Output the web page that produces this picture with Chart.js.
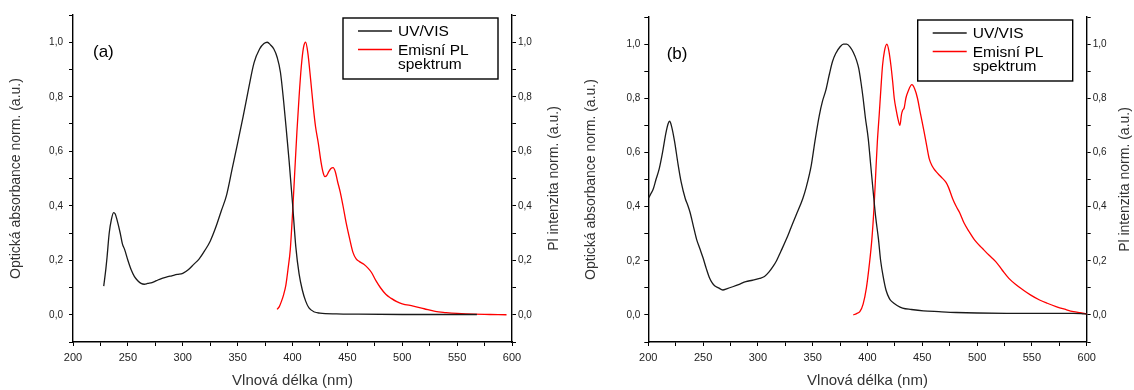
<!DOCTYPE html>
<html>
<head>
<meta charset="utf-8">
<script src="https://cdn.jsdelivr.net/npm/chart.js@4.4.1/dist/chart.umd.min.js"></script>
<style>
    body { margin: 0; background: #fff; }
    .row { display: flex; width: 1134px; height: 390px; }
    canvas { display: block; }
</style>
</head>
<body>
<div class="row">
    <canvas id="chartA" width="567" height="390"></canvas>
    <canvas id="chartB" width="567" height="390"></canvas>
</div>
<script>
// (a) UV/VIS absorbance
const uvA_nm  = [228, 230, 231, 233, 235, 237, 238.5, 240, 243, 245, 247, 250, 253, 256, 259, 262, 265, 268, 272, 276, 280, 285, 290, 295, 300, 305, 310, 315, 320, 325, 330, 335, 340, 345, 350, 355, 360, 365, 370, 374, 377, 380, 383, 386, 389, 392, 395, 397, 400, 403, 406, 409, 412, 415, 420, 425, 440, 460, 500, 540, 568];
const uvA_val = [0.105, 0.17, 0.21, 0.30, 0.35, 0.375, 0.37, 0.35, 0.30, 0.26, 0.24, 0.20, 0.165, 0.14, 0.125, 0.115, 0.112, 0.115, 0.118, 0.125, 0.132, 0.138, 0.143, 0.148, 0.152, 0.165, 0.185, 0.205, 0.235, 0.27, 0.32, 0.38, 0.44, 0.535, 0.63, 0.727, 0.83, 0.925, 0.975, 0.995, 1.0, 0.99, 0.975, 0.945, 0.89, 0.78, 0.65, 0.56, 0.41, 0.25, 0.15, 0.09, 0.05, 0.025, 0.01, 0.006, 0.003, 0.002, 0.001, 0.001, 0.001];
// (a) PL emission
const plA_nm  = [386, 388, 390, 392, 394, 396, 398, 400, 402, 404, 406, 408, 410, 412, 414, 416.6, 419, 421, 423.5, 426, 428, 429.5, 431, 433, 435, 437, 439, 441, 443.5, 446, 449, 452, 455, 458, 461, 465, 469, 472, 476, 480, 485, 490, 495, 500, 510, 520, 530, 540, 550, 565, 580, 595];
const plA_val = [0.02, 0.03, 0.05, 0.075, 0.11, 0.17, 0.24, 0.37, 0.52, 0.67, 0.80, 0.91, 0.98, 1.0, 0.96, 0.86, 0.76, 0.69, 0.63, 0.56, 0.52, 0.507, 0.51, 0.525, 0.537, 0.54, 0.525, 0.49, 0.45, 0.40, 0.335, 0.28, 0.23, 0.205, 0.195, 0.185, 0.17, 0.155, 0.125, 0.10, 0.075, 0.06, 0.048, 0.04, 0.032, 0.022, 0.012, 0.008, 0.005, 0.002, 0.001, 0];

// (b) UV/VIS absorbance
const uvB_nm  = [200, 202, 204.6, 207, 210, 213, 216, 218, 219.5, 221, 224, 227, 230, 233.7, 236, 238, 241, 244, 247, 250, 253, 256, 258, 260.5, 264, 268, 272, 277, 283, 289, 295, 301.6, 306, 310, 314, 317, 321, 326, 330, 335, 341, 344, 348.6, 352, 356, 359, 362, 365, 368, 371, 375, 378, 381, 384, 387, 390, 392, 394, 396, 398, 400.7, 403, 405.3, 407.5, 410, 412, 414.6, 417, 420, 422, 427, 432, 440, 451, 465, 481, 500, 527, 560, 588, 595, 600];
const uvB_val = [0.43, 0.445, 0.466, 0.50, 0.54, 0.60, 0.67, 0.705, 0.715, 0.70, 0.64, 0.56, 0.49, 0.43, 0.405, 0.38, 0.33, 0.28, 0.245, 0.21, 0.17, 0.135, 0.12, 0.108, 0.10, 0.092, 0.097, 0.104, 0.113, 0.123, 0.128, 0.135, 0.142, 0.158, 0.18, 0.20, 0.235, 0.28, 0.32, 0.37, 0.43, 0.47, 0.55, 0.64, 0.736, 0.79, 0.83, 0.885, 0.935, 0.965, 0.99, 1.0, 1.0, 0.99, 0.97, 0.94, 0.91, 0.86, 0.80, 0.73, 0.65, 0.55, 0.45, 0.36, 0.28, 0.20, 0.135, 0.09, 0.06, 0.05, 0.035, 0.025, 0.02, 0.015, 0.012, 0.009, 0.007, 0.006, 0.006, 0.006, 0.005, 0.003];
// (b) PL emission
const plB_nm  = [387, 390, 393, 396, 399, 401.5, 404, 406, 407.6, 409, 410.7, 412.3, 413.7, 415.5, 417.7, 419.5, 421.4, 423, 424.4, 426.5, 428, 429.6, 431, 432, 433.5, 435, 437, 440.5, 443, 445.6, 448, 451.7, 454, 456.3, 459, 462.4, 467, 471.5, 474, 477.6, 481, 484, 488, 492.8, 498, 505, 511, 517, 523, 529, 535, 542, 549, 557, 564, 572, 580, 588, 594, 600];
const plB_val = [0.0, 0.005, 0.012, 0.04, 0.10, 0.18, 0.28, 0.40, 0.53, 0.64, 0.74, 0.84, 0.92, 0.975, 1.0, 0.975, 0.92, 0.86, 0.80, 0.75, 0.72, 0.70, 0.74, 0.755, 0.765, 0.80, 0.825, 0.85, 0.835, 0.80, 0.75, 0.675, 0.625, 0.577, 0.55, 0.53, 0.51, 0.49, 0.47, 0.43, 0.40, 0.378, 0.34, 0.307, 0.275, 0.245, 0.22, 0.197, 0.165, 0.135, 0.113, 0.092, 0.073, 0.055, 0.043, 0.031, 0.021, 0.012, 0.008, 0.004];

const xTitle = 'Vlnová délka (nm)';
const yLeftTitle = 'Optická absorbance norm. (a.u.)';
const yRightTitle = 'Pl intenzita norm. (a.u.)';
const seriesLabels = ['UV/VIS', 'Emisní PL spektrum'];
const legendLines = [['UV/VIS'], ['Emisní PL', 'spektrum']];

const FONT = '"Liberation Sans", Arial, sans-serif';

function toPoints(xs, ys) {
    return xs.map((x, i) => ({ x: x, y: ys[i] }));
}

function yLabel(v) {
    const k = Math.round(v * 10);
    if (k < 0 || k > 10 || k % 2 !== 0) return '';
    return (k / 10).toFixed(1).replace('.', ',');
}

// legend box, panel letter and right axis title (reads bottom to top)
const annotate = {
    id: 'annotate',
    afterDraw(chart, args, opts) {
        const { ctx, chartArea } = chart;
        ctx.save();
        ctx.fillStyle = '#000';
        ctx.textBaseline = 'middle';
        ctx.font = '17px ' + FONT;
        ctx.fillText(opts.panel, chartArea.left + opts.panelDx, chartArea.top + 37.5);

        const bw = 155, bh = 61;
        const bx = chartArea.right - 14 - bw, by = chartArea.top + 3;
        ctx.strokeStyle = '#000';
        ctx.lineWidth = 1.4;
        ctx.strokeRect(bx, by, bw, bh);

        ctx.font = '15.5px ' + FONT;
        const rows = [by + 13, by + 31.5];
        chart.data.datasets.forEach((ds, i) => {
            ctx.strokeStyle = ds.borderColor;
            ctx.lineWidth = 1.3;
            ctx.beginPath();
            ctx.moveTo(bx + 15, rows[i]);
            ctx.lineTo(bx + 49, rows[i]);
            ctx.stroke();
            ctx.fillStyle = '#000';
            legendLines[i].forEach((t, j) => {
                ctx.fillText(t, bx + 55, rows[i] + 1 + j * 14);
            });
        });

        ctx.font = '14px ' + FONT;
        ctx.fillStyle = '#333';
        ctx.textAlign = 'center';
        ctx.translate(opts.rightTitleX, (chartArea.top + chartArea.bottom) / 2);
        ctx.rotate(-Math.PI / 2);
        ctx.fillText(yRightTitle, 0, 0);
        ctx.restore();
    }
};

function makeChart(id, uvNm, uvVal, plNm, plVal, cfg) {
    const yCommon = {
        type: 'linear',
        min: -0.1,
        max: 1.1,
        ticks: {
            stepSize: 0.1,
            autoSkip: false,
            callback: yLabel,
            color: '#222',
            font: { family: FONT, size: 10 }
        },
        grid: { drawOnChartArea: false, drawTicks: true, tickLength: 4, color: '#000' },
        border: { color: '#000', width: 1.4 }
    };
    return new Chart(document.getElementById(id), {
        type: 'line',
        data: {
            datasets: [
                {
                    label: seriesLabels[0],
                    data: toPoints(uvNm, uvVal),
                    borderColor: '#1a1a1a',
                    yAxisID: 'y'
                },
                {
                    label: seriesLabels[1],
                    data: toPoints(plNm, plVal),
                    borderColor: '#ff0000',
                    yAxisID: 'y2'
                }
            ]
        },
        options: {
            responsive: false,
            animation: false,
            devicePixelRatio: 1,
            layout: { padding: { top: cfg.top, left: 0, right: 0, bottom: 0 } },
            elements: {
                point: { radius: 0 },
                line: { borderWidth: 1.3, cubicInterpolationMode: 'monotone' }
            },
            plugins: {
                legend: { display: false },
                tooltip: { enabled: false },
                annotate: { panel: cfg.panel, panelDx: cfg.panelDx, rightTitleX: cfg.rightTitleX }
            },
            scales: {
                x: {
                    type: 'linear',
                    min: 200,
                    max: 600,
                    ticks: {
                        stepSize: 25,
                        autoSkip: false,
                        maxRotation: 0,
                        padding: 5,
                        callback: v => (v % 50 === 0 ? String(v) : ''),
                        color: '#222',
                        font: { family: FONT, size: 11 }
                    },
                    grid: { drawOnChartArea: false, drawTicks: true, tickLength: 4, color: '#000' },
                    border: { color: '#000', width: 1.4 },
                    title: {
                        display: true,
                        text: xTitle,
                        color: '#333',
                        font: { family: FONT, size: 15 },
                        padding: { top: 0, bottom: 0 }
                    },
                    afterFit: s => { s.height = 48; }
                },
                y: Object.assign({}, yCommon, {
                    position: 'left',
                    ticks: Object.assign({}, yCommon.ticks, { padding: cfg.leftPad }),
                    title: {
                        display: true,
                        text: yLeftTitle,
                        color: '#333',
                        font: { family: FONT, size: 14 },
                        padding: { top: cfg.leftTitlePad, bottom: 0 }
                    },
                    afterFit: s => { s.width = cfg.leftW; }
                }),
                y2: Object.assign({}, yCommon, {
                    position: 'right',
                    ticks: Object.assign({}, yCommon.ticks, { padding: 2 }),
                    afterFit: s => { s.width = cfg.rightW; }
                })
            }
        },
        plugins: [annotate]
    });
}

makeChart('chartA', uvA_nm, uvA_val, plA_nm, plA_val,
    { top: 15, leftW: 73, rightW: 55, leftPad: 6, leftTitlePad: 7.5, panel: '(a)', panelDx: 20, rightTitleX: 554 });
makeChart('chartB', uvB_nm, uvB_val, plB_nm, plB_val,
    { top: 17, leftW: 81.3, rightW: 47.3, leftPad: 4, leftTitlePad: 16, panel: '(b)', panelDx: 18.4, rightTitleX: 558 });
</script>
</body>
</html>
